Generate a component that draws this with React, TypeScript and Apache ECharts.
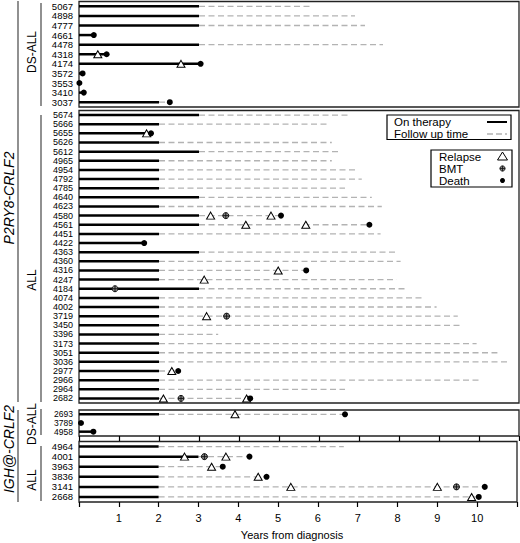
import React, { useEffect, useRef } from "react";
import * as echarts from "echarts";

// ---------- Data ----------
// P2RY8-CRLF2, DS-ALL
const dsP2Ids = ["5067", "4898", "4777", "4661", "4478", "4318", "4174", "3572", "3553", "3410", "3037"];
const dsP2Therapy = [3.0, 3.0, 3.0, 0.37, 3.0, 0.69, 3.04, 0.09, 0.01, 0.12, 2.0];
const dsP2Follow = [5.85, 6.9, 7.15, 0.37, 7.6, 0.69, 3.04, 0.09, 0.01, 0.12, 2.27];
const dsP2Relapse: [string, number][] = [["4318", 0.47], ["4174", 2.55]];
const dsP2Bmt: [string, number][] = [];
const dsP2Death: [string, number][] = [
  ["4661", 0.37], ["4318", 0.69], ["4174", 3.04], ["3572", 0.09], ["3553", 0.01], ["3410", 0.12], ["3037", 2.27],
];

// P2RY8-CRLF2, ALL
const allP2Ids = [
  "5674", "5666", "5655", "5626", "5612", "4965", "4954", "4792", "4785", "4640", "4623", "4580", "4561", "4451",
  "4422", "4363", "4360", "4316", "4247", "4184", "4074", "4002", "3719", "3450", "3396", "3173", "3051", "3036",
  "2977", "2966", "2964", "2682",
];
const allP2Therapy = [
  3, 2, 1.8, 2, 3, 2, 2, 2, 2, 3, 2, 3, 3, 2, 1.63, 3, 2, 2, 2, 3, 2, 2, 2, 2, 2, 2, 2, 2, 2, 2, 2, 2,
];
const allP2Follow = [
  6.76, 6.26, 1.8, 6.32, 6.53, 6.32, 6.9, 7.07, 6.65, 7.32, 7.57, 5.05, 7.26, 7.54, 1.63, 7.9, 8.04, 5.68, 7.94,
  8.19, 8.65, 8.94, 9.47, 9.54, 3.48, 9.94, 10.46, 10.78, 2.48, 10.0, 6.65, 4.28,
];
const allP2Relapse: [string, number][] = [
  ["5655", 1.69], ["4580", 3.29], ["4580", 4.8], ["4561", 4.17], ["4561", 5.67], ["4316", 4.98], ["4247", 3.13],
  ["3719", 3.19], ["2977", 2.32], ["2682", 2.11], ["2682", 4.19],
];
const allP2Bmt: [string, number][] = [["4580", 3.67], ["4184", 0.9], ["3719", 3.69], ["2682", 2.55]];
const allP2Death: [string, number][] = [
  ["5655", 1.8], ["4580", 5.05], ["4561", 7.26], ["4422", 1.63], ["4316", 5.68], ["2977", 2.48], ["2682", 4.28],
];

// IGH@-CRLF2, DS-ALL
const dsIghIds = ["2693", "3789", "4958"];
const dsIghTherapy = [2, 0.05, 0.36];
const dsIghFollow = [6.65, 0.05, 0.36];
const dsIghRelapse: [string, number][] = [["2693", 3.9]];
const dsIghBmt: [string, number][] = [];
const dsIghDeath: [string, number][] = [["2693", 6.65], ["3789", 0.05], ["4958", 0.36]];

// IGH@-CRLF2, ALL
const allIghIds = ["4964", "4001", "3963", "3836", "3141", "2668"];
const allIghTherapy = [2, 3, 2, 2, 2, 2];
const allIghFollow = [6.65, 4.28, 3.61, 4.71, 10.19, 10.04];
const allIghRelapse: [string, number][] = [
  ["4001", 2.65], ["4001", 3.69], ["3963", 3.33], ["3836", 4.5], ["3141", 5.32], ["3141", 9.0], ["2668", 9.86],
];
const allIghBmt: [string, number][] = [["4001", 3.15], ["3141", 9.48]];
const allIghDeath: [string, number][] = [
  ["4001", 4.28], ["3963", 3.61], ["3836", 4.71], ["3141", 10.19], ["2668", 10.04],
];

const xTicks = [1, 2, 3, 4, 5, 6, 7, 8, 9, 10];

const panels = [
  { ids: dsP2Ids, therapy: dsP2Therapy, follow: dsP2Follow, relapse: dsP2Relapse, bmt: dsP2Bmt, death: dsP2Death },
  { ids: allP2Ids, therapy: allP2Therapy, follow: allP2Follow, relapse: allP2Relapse, bmt: allP2Bmt, death: allP2Death },
  { ids: dsIghIds, therapy: dsIghTherapy, follow: dsIghFollow, relapse: dsIghRelapse, bmt: dsIghBmt, death: dsIghDeath },
  { ids: allIghIds, therapy: allIghTherapy, follow: allIghFollow, relapse: allIghRelapse, bmt: allIghBmt, death: allIghDeath },
];

// ---------- Layout ----------
const FONT = "'Liberation Sans', Arial, Helvetica, sans-serif";
const gridBoxes = [
  { top: 1.5, height: 105.5, label: 9.5 },
  { top: 110.5, height: 292.5, label: 9 },
  { top: 410, height: 26, label: 8.5 },
  { top: 441.5, height: 60.5, label: 9.5 },
];
const GRAY = "#b3b3b3";
const BORDER = "#222";
const BRACKET = "#555";

function buildOption() {
  const grid = gridBoxes.map((g) => ({
    left: 79,
    width: 440,
    top: g.top,
    height: g.height,
    show: true,
    borderColor: BORDER,
    borderWidth: 1.3,
    backgroundColor: "transparent",
  }));

  const xAxis = gridBoxes.map((_, i) => ({
    type: "value",
    gridIndex: i,
    min: 0,
    max: 11,
    interval: 1,
    show: i >= 2,
    axisLine: { show: false },
    splitLine: { show: false },
    axisTick: { show: i >= 2, length: 5, inside: false, lineStyle: { color: "#000", width: 1.2 } },
    axisLabel: {
      show: i === 3,
      margin: 10,
      fontSize: 11,
      color: "#000",
      fontFamily: FONT,
      formatter: (v: number) => (xTicks.includes(v) ? String(v) : ""),
    },
    name: i === 3 ? "Years from diagnosis" : "",
    nameLocation: "middle",
    nameGap: 27,
    nameTextStyle: { fontSize: 11, color: "#000", fontFamily: FONT, padding: [0, 12, 0, 0] },
  }));

  const yAxis = panels.map((p, i) => ({
    type: "category",
    gridIndex: i,
    inverse: true,
    data: p.ids,
    axisLine: { show: false },
    axisTick: { show: false },
    splitLine: { show: false },
    axisLabel: {
      fontSize: gridBoxes[i].label,
      lineHeight: gridBoxes[i].label,
      color: "#000",
      margin: 6,
      fontFamily: FONT,
      interval: 0,
    },
  }));

  const series: any[] = [];
  panels.forEach((p, i) => {
    series.push({
      type: "custom",
      xAxisIndex: i,
      yAxisIndex: i,
      silent: true,
      z: 2,
      encode: { x: [0, 1], y: 2 },
      data: p.ids.map((id, k) => [p.therapy[k], p.follow[k], id]),
      renderItem: (params: any, api: any) => {
        const t = api.value(0);
        const f = api.value(1);
        const c = api.value(2);
        const p0 = api.coord([0, c]);
        const pt = api.coord([t, c]);
        const pf = api.coord([f, c]);
        const children: any[] = [];
        if (f > t) {
          children.push({
            type: "line",
            shape: { x1: pt[0], y1: pt[1], x2: pf[0], y2: pf[1] },
            style: { stroke: GRAY, lineWidth: 1.3, lineDash: [6, 3.5] },
          });
        }
        children.push({
          type: "line",
          shape: { x1: p0[0], y1: p0[1], x2: pt[0], y2: pt[1] },
          style: { stroke: "#000", lineWidth: 2.5 },
        });
        return { type: "group", children };
      },
    });
    series.push({
      type: "scatter",
      xAxisIndex: i,
      yAxisIndex: i,
      silent: true,
      z: 3,
      symbol: "triangle",
      symbolSize: [8, 7],
      itemStyle: { color: "#fff", borderColor: "#000", borderWidth: 1, opacity: 1 },
      data: p.relapse.map(([id, t]) => [t, id]),
    });
    series.push({
      type: "custom",
      xAxisIndex: i,
      yAxisIndex: i,
      silent: true,
      z: 4,
      encode: { x: 0, y: 1 },
      data: p.bmt.map(([id, t]) => [t, id]),
      renderItem: (params: any, api: any) => {
        const pt = api.coord([api.value(0), api.value(1)]);
        const r = 3;
        return {
          type: "group",
          children: [
            { type: "circle", shape: { cx: pt[0], cy: pt[1], r }, style: { fill: "#888", stroke: "#111", lineWidth: 1 } },
            { type: "line", shape: { x1: pt[0] - r, y1: pt[1], x2: pt[0] + r, y2: pt[1] }, style: { stroke: "#111", lineWidth: 0.9 } },
            { type: "line", shape: { x1: pt[0], y1: pt[1] - r, x2: pt[0], y2: pt[1] + r }, style: { stroke: "#111", lineWidth: 0.9 } },
          ],
        };
      },
    });
    series.push({
      type: "scatter",
      xAxisIndex: i,
      yAxisIndex: i,
      silent: true,
      z: 5,
      symbol: "circle",
      symbolSize: 6,
      itemStyle: { color: "#000", opacity: 1 },
      data: p.death.map(([id, t]) => [t, id]),
    });
  });

  const vText = (text: string, x: number, y: number, size: number, italic: boolean) => ({
    type: "text",
    x,
    y,
    rotation: Math.PI / 2,
    style: {
      text,
      fontSize: size,
      fontStyle: italic ? "italic" : "normal",
      fontFamily: FONT,
      fill: "#000",
      align: "center",
      verticalAlign: "middle",
    },
  });
  const vLine = (x: number, y1: number, y2: number) => ({
    type: "line",
    shape: { x1: x, y1, x2: x, y2 },
    style: { stroke: BRACKET, lineWidth: 1.3 },
  });
  const lText = (text: string, x: number, y: number) => ({
    type: "text",
    x,
    y,
    style: {
      text,
      fontSize: 11.5,
      lineHeight: 11,
      fontFamily: FONT,
      fill: "#000",
      align: "left",
      verticalAlign: "middle",
    },
  });

  const graphic: any[] = [
    vLine(18, 1, 402),
    vText("P2RY8-CRLF2", 9, 198, 14, true),
    vLine(18, 410, 502),
    vText("IGH@-CRLF2", 9, 449, 14, true),
    vLine(41, 3, 106),
    vText("DS-ALL", 32, 52, 12, false),
    vLine(41, 115, 402),
    vText("ALL", 32, 280, 12, false),
    vLine(41, 409, 435),
    vText("DS-ALL", 32, 424, 12, false),
    vLine(41, 446, 501),
    vText("ALL", 32, 480, 12, false),
    // legend box 1
    { type: "rect", shape: { x: 387, y: 115, width: 124, height: 24.5 }, style: { fill: "#fff", stroke: "#000", lineWidth: 1.2 }, z: 10 },
    { ...lText("On therapy", 394, 121.5), z: 11 },
    { ...lText("Follow up time", 394, 133.5), z: 11 },
    { type: "line", shape: { x1: 487, y1: 122, x2: 507, y2: 122 }, style: { stroke: "#000", lineWidth: 2 }, z: 11 },
    { type: "line", shape: { x1: 487, y1: 134, x2: 507, y2: 134 }, style: { stroke: GRAY, lineWidth: 1.3, lineDash: [6, 3] }, z: 11 },
    // legend box 2
    { type: "rect", shape: { x: 431, y: 150, width: 81, height: 37 }, style: { fill: "#fff", stroke: "#000", lineWidth: 1.2 }, z: 10 },
    { ...lText("Relapse", 439, 157), z: 11 },
    { ...lText("BMT", 439, 168.5), z: 11 },
    { ...lText("Death", 439, 180.5), z: 11 },
    { type: "polygon", shape: { points: [[502.5, 152], [497.5, 160], [507.5, 160]] }, style: { fill: "#fff", stroke: "#000", lineWidth: 1 }, z: 11 },
    { type: "circle", shape: { cx: 502.5, cy: 168.5, r: 2.6 }, style: { fill: "#888", stroke: "#111", lineWidth: 0.9 }, z: 11 },
    { type: "line", shape: { x1: 499.9, y1: 168.5, x2: 505.1, y2: 168.5 }, style: { stroke: "#111", lineWidth: 0.8 }, z: 12 },
    { type: "line", shape: { x1: 502.5, y1: 165.9, x2: 502.5, y2: 171.1 }, style: { stroke: "#111", lineWidth: 0.8 }, z: 12 },
    { type: "circle", shape: { cx: 502.5, cy: 180.5, r: 2.5 }, style: { fill: "#000" }, z: 11 },
  ];

  return {
    animation: false,
    backgroundColor: "#fff",
    textStyle: { fontFamily: FONT },
    grid,
    xAxis,
    yAxis,
    series,
    graphic,
  };
}

export default function App() {
  const ref = useRef<HTMLDivElement>(null);
  useEffect(() => {
    document.body.style.margin = "0";
    if (!ref.current) return;
    const chart = echarts.init(ref.current, undefined, { renderer: "svg" });
    chart.setOption(buildOption() as any);
    return () => chart.dispose();
  }, []);
  return <div ref={ref} style={{ position: "absolute", left: 0, top: 0, width: 520, height: 543 }} />;
}
